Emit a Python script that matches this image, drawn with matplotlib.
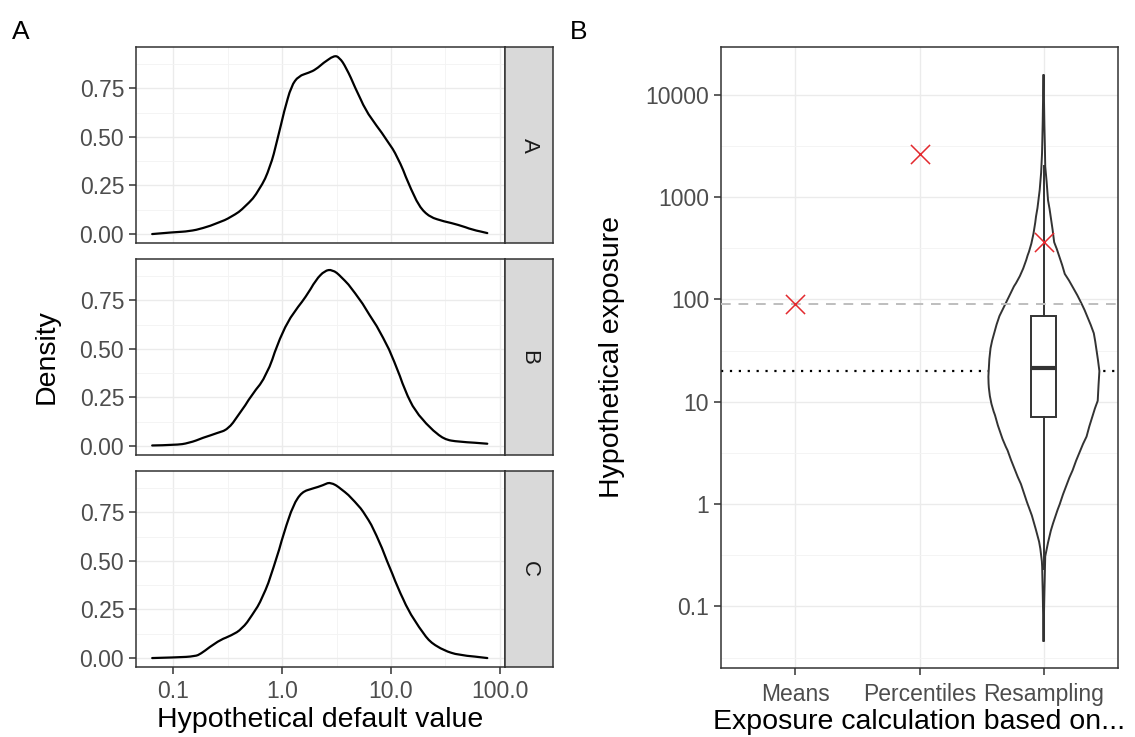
import matplotlib
matplotlib.use("Agg")
import matplotlib.pyplot as plt
from matplotlib.path import Path
from matplotlib.patches import PathPatch
import numpy as np

plt.rcParams['font.family'] = ['Liberation Sans', 'DejaVu Sans']

# ---- panel A data: density curves (x on log10 scale)
facets = ["A", "B", "C"]
logx_a = [-1.196, -0.99, -0.86, -0.73, -0.60, -0.47, -0.34, -0.21, -0.11, -0.047, 0.018, 0.083,
          0.15, 0.246, 0.31, 0.377, 0.475, 0.524, 0.589, 0.67, 0.768, 0.866, 0.964, 1.062,
          1.16, 1.258, 1.356, 1.486, 1.617, 1.747, 1.887]
dens_a = [0.0, 0.01, 0.014, 0.03, 0.056, 0.087, 0.14, 0.226, 0.345, 0.48, 0.634, 0.762,
          0.813, 0.83, 0.847, 0.88, 0.918, 0.91, 0.855, 0.753, 0.634, 0.558, 0.481, 0.396,
          0.26, 0.141, 0.087, 0.065, 0.048, 0.022, 0.005]
logx_b = [-1.196, -0.99, -0.86, -0.73, -0.60, -0.50, -0.41, -0.28, -0.14, -0.047, 0.05, 0.15,
          0.21, 0.31, 0.39, 0.46, 0.54, 0.67, 0.80, 0.93, 1.03, 1.13, 1.22, 1.355, 1.486,
          1.617, 1.887]
dens_b = [0.003, 0.005, 0.015, 0.043, 0.067, 0.086, 0.154, 0.265, 0.368, 0.522, 0.642, 0.72,
          0.762, 0.856, 0.902, 0.908, 0.873, 0.788, 0.676, 0.557, 0.437, 0.283, 0.18, 0.094,
          0.034, 0.022, 0.012]
logx_c = [-1.196, -0.99, -0.80, -0.75, -0.67, -0.57, -0.47, -0.37, -0.28, -0.18, -0.08, 0.018,
          0.10, 0.18, 0.28, 0.377, 0.44, 0.54, 0.67, 0.768, 0.866, 0.964, 1.062, 1.16, 1.258,
          1.356, 1.486, 1.617, 1.887]
dens_c = [0.0, 0.003, 0.009, 0.022, 0.056, 0.094, 0.116, 0.15, 0.218, 0.31, 0.464, 0.651,
          0.787, 0.855, 0.872, 0.889, 0.906, 0.872, 0.804, 0.736, 0.634, 0.498, 0.362, 0.243,
          0.158, 0.082, 0.039, 0.015, 0.0]
curves = [(logx_a, dens_a), (logx_b, dens_b), (logx_c, dens_c)]

# ---- panel B data
methods = ["Means", "Percentiles", "Resampling"]
point_est = [91, 2640, 362]
dashed_ref = 90
dotted_ref = 20
box_q1, box_med, box_q3 = 7.1, 21.4, 69
whisk_lo, whisk_hi = 0.23, 2000
violin_logy = [-1.345, -1.0, -0.75, -0.51, -0.26, 0.0, 0.33, 0.66, 1.01, 1.30, 1.67,
               1.96, 2.25, 2.56, 2.97, 3.3, 3.7, 4.2]
violin_rel = [0.0, 0.01, 0.02, 0.03, 0.13, 0.29, 0.52, 0.77, 0.97, 1.0, 0.9,
              0.68, 0.38, 0.19, 0.08, 0.03, 0.015, 0.0]

W, H = 1135, 737
fig = plt.figure(figsize=(W / 100, H / 100), dpi=100)

border = '#333333'
tickcol = '#4D4D4D'
grid_major = '#EBEBEB'
grid_minor = '#F3F3F3'


def px(x0, y0, x1, y1):
    return [x0 / W, 1 - y1 / H, (x1 - x0) / W, (y1 - y0) / H]


def smooth_pts(xs, ys):
    # quadratic bezier through midpoints, so the drawn line is rounded
    pts = list(zip(xs, ys))
    verts = [pts[0]]
    codes = [Path.MOVETO]
    for k in range(1, len(pts) - 1):
        mid = ((pts[k][0] + pts[k + 1][0]) / 2, (pts[k][1] + pts[k + 1][1]) / 2)
        verts += [pts[k], mid]
        codes += [Path.CURVE3, Path.CURVE3]
    verts.append(pts[-1])
    codes.append(Path.LINETO)
    return verts, codes


def style(ax):
    for s in ax.spines.values():
        s.set_color(border)
        s.set_linewidth(1.1)
    ax.tick_params(colors=border, labelcolor=tickcol, labelsize=16.5, length=5, width=1.1)
    ax.tick_params(which='minor', length=0)
    ax.set_axisbelow(True)


panel_rows = [(47, 243), (259, 455), (471, 667)]
for i, (fac, (lx, dy)) in enumerate(zip(facets, curves)):
    top, bot = panel_rows[i]
    ax = fig.add_axes(px(136, top, 505, bot))
    style(ax)
    ax.set_xscale('log')
    ax.set_xlim(10 ** -1.345, 10 ** 2.05)
    ax.set_ylim(-0.046, 0.962)
    ax.set_xticks([0.1, 1, 10, 100])
    ax.set_xticks([10 ** -0.5, 10 ** 0.5, 10 ** 1.5], minor=True)
    ax.set_yticks([0, 0.25, 0.5, 0.75])
    ax.set_yticklabels(["0.00", "0.25", "0.50", "0.75"])
    ax.set_yticks([0.125, 0.375, 0.625, 0.875], minor=True)
    ax.grid(which='major', color=grid_major, lw=1.0)
    ax.grid(which='minor', color=grid_minor, lw=0.6)
    v, c = smooth_pts(10 ** np.array(lx), dy)
    ax.add_patch(PathPatch(Path(v, c), facecolor='none', edgecolor='black',
                           lw=1.6, capstyle='round', joinstyle='round'))
    if i < 2:
        ax.tick_params(axis='x', labelbottom=False, length=0)
    else:
        ax.set_xticklabels(["0.1", "1.0", "10.0", "100.0"])
        ax.tick_params(axis='x', pad=4)
        ax.set_xlabel("Hypothetical default value", fontsize=20.5, labelpad=3)
    # strip
    st = fig.add_axes(px(505, top, 553, bot))
    st.set_facecolor('#D9D9D9')
    st.set_xticks([])
    st.set_yticks([])
    for s in st.spines.values():
        s.set_color(border)
        s.set_linewidth(1.1)
    st.text(0.5, 0.5, fac, rotation=270, ha='center', va='center',
            fontsize=16, color='#1A1A1A', transform=st.transAxes)

fig.text(47 / W, 1 - 357 / H, "Density", rotation=90, ha='center', va='center', fontsize=20.5)
fig.text(12 / W, 1 - 32 / H, "A", ha='left', va='center', fontsize=19)

# ---- panel B
axb = fig.add_axes(px(721, 47, 1118, 668))
style(axb)
axb.set_yscale('log')
axb.set_ylim(10 ** -1.602, 10 ** 4.468)
pos = np.arange(1, len(methods) + 1)
axb.set_yticks([0.1, 1, 10, 100, 1000, 10000])
axb.set_yticklabels(["0.1", "1", "10", "100", "1000", "10000"])
axb.set_yticks([10 ** (k + 0.5) for k in range(-2, 4)], minor=True)
axb.yaxis.set_minor_formatter(plt.NullFormatter())
axb.grid(which='major', color=grid_major, lw=1.0)
axb.grid(which='minor', axis='y', color=grid_minor, lw=0.6)

axb.axhline(dotted_ref, color='black', lw=1.6, ls=(0, (1, 3)), zorder=1)

# violin outline: left half going up, right half coming back down (tips kept sharp)
vy = 10 ** np.array(violin_logy)
vw = 0.45 * np.array(violin_rel)
lv, lc = smooth_pts(pos[2] - vw, vy)
rv, rc = smooth_pts((pos[2] + vw)[::-1], vy[::-1])
verts = lv + rv[1:] + [lv[0]]
codes = lc + [Path.LINETO] + rc[2:] + [Path.CLOSEPOLY]
axb.add_patch(PathPatch(Path(verts, codes), facecolor='white',
                        edgecolor=border, lw=1.4, zorder=2))

stats = [dict(med=box_med, q1=box_q1, q3=box_q3, whislo=whisk_lo, whishi=whisk_hi, fliers=[])]
axb.bxp(stats, positions=[pos[2]], widths=0.2, patch_artist=True, showfliers=False,
        boxprops=dict(facecolor='white', edgecolor=border, lw=1.4),
        medianprops=dict(color=border, lw=3),
        whiskerprops=dict(color=border, lw=1.4),
        capprops=dict(lw=0), zorder=3)
axb.set_xticks(pos)
axb.set_xticklabels(methods)
axb.set_xlim(0.4, 3.6)
axb.tick_params(axis='x', pad=6)
axb.axhline(dashed_ref, color='#BEBEBE', lw=1.4, ls=(0, (5, 4)), zorder=4)
axb.scatter(pos, point_est, marker='x', s=190, color='#E3292E', lw=1.1, zorder=5)

axb.set_xlabel("Exposure calculation based on...", fontsize=20.5, labelpad=2)
fig.text(612 / W, 1 - 357 / H, "Hypothetical exposure", rotation=90,
         ha='center', va='center', fontsize=20.5)
fig.text(570 / W, 1 - 32 / H, "B", ha='left', va='center', fontsize=19)

fig.savefig("out.png", dpi=100, facecolor='white')
